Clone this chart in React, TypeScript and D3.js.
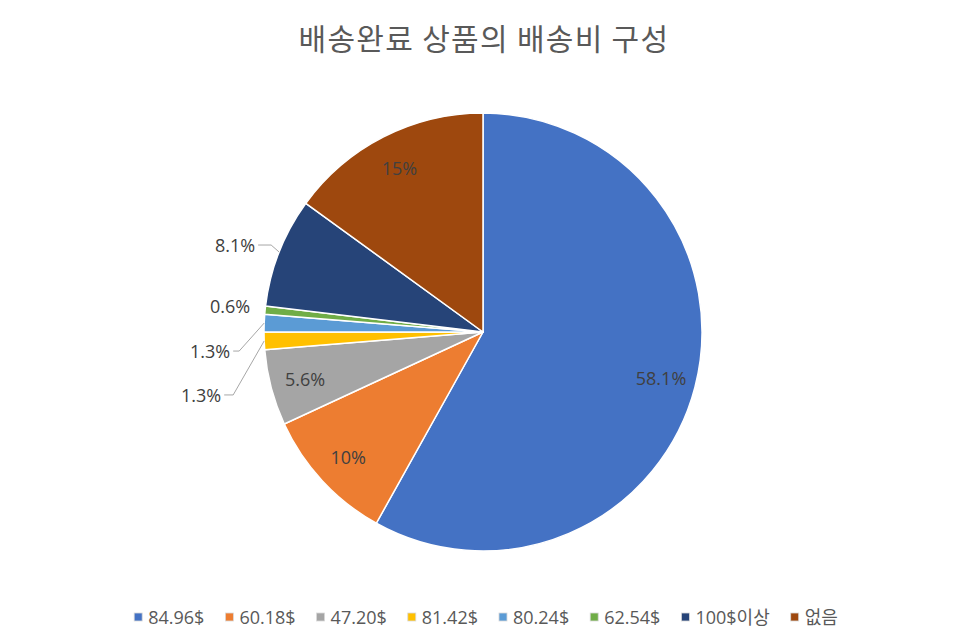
import { useEffect, useRef } from 'react';
import * as d3 from 'd3';

const title = '배송완료 상품의 배송비 구성';
const categories = ['84.96$', '60.18$', '47.20$', '81.42$', '80.24$', '62.54$', '100$이상', '없음'];
const shares = [58.1, 10, 5.6, 1.3, 1.3, 0.6, 8.1, 15];
const shareLabels = ['58.1%', '10%', '5.6%', '1.3%', '1.3%', '0.6%', '8.1%', '15%'];
const colors = ['#4472C4', '#ED7D31', '#A5A5A5', '#FFC000', '#5B9BD5', '#70AD47', '#264478', '#9E480E'];

// small slices get their label outside, pulled left with a leader line
const outside: Record<number, { dx: number; dy: number; tail: number; line: boolean }> = {
    3: { dx: -31, dy: 54, tail: 9, line: true },
    4: { dx: -25, dy: 28, tail: 6, line: true },
    5: { dx: -12, dy: -4, tail: 0, line: false },
    6: { dx: -8, dy: -7, tail: 13, line: true },
};

const W = 966;
const H = 644;
const TITLE_FONT = '"Noto Sans CJK KR", "Noto Sans", sans-serif';
const FONT = '"Open Sans", "Noto Sans CJK KR", sans-serif';

export default function App() {
    const svgRef = useRef<SVGSVGElement>(null);

    useEffect(() => {
        if (!svgRef.current) return;
        const svg = d3.select(svgRef.current);
        svg.selectAll('*').remove();

        const cx = 483;
        const cy = 332;
        const r = 219;

        svg.append('rect').attr('width', W).attr('height', H).attr('fill', '#fff');

        // Title
        svg.append('text')
            .attr('x', cx + 1)
            .attr('y', 37)
            .attr('text-anchor', 'middle')
            .attr('dominant-baseline', 'central')
            .style('font-family', TITLE_FONT)
            .style('font-size', '30px')
            .style('letter-spacing', '1.3px')
            .style('fill', '#595959')
            .text(title);

        const pie = d3.pie<number>().sort(null).value(d => d);
        const arcs = pie(shares);
        const arc = d3.arc<d3.PieArcDatum<number>>().innerRadius(0).outerRadius(r);

        const g = svg.append('g').attr('transform', `translate(${cx},${cy})`);

        g.selectAll('path.slice')
            .data(arcs)
            .enter()
            .append('path')
            .attr('class', 'slice')
            .attr('d', arc)
            .attr('fill', (d, i) => colors[i])
            .attr('stroke', '#fff')
            .attr('stroke-width', 1.5)
            .attr('stroke-linejoin', 'round');

        // Labels
        arcs.forEach((d, i) => {
            const mid = (d.startAngle + d.endAngle) / 2;
            const o = outside[i];
            if (!o) {
                const lr = r * 0.84;
                g.append('text')
                    .attr('x', Math.sin(mid) * lr)
                    .attr('y', -Math.cos(mid) * lr)
                    .attr('text-anchor', 'middle')
                    .attr('dominant-baseline', 'central')
                    .style('font-family', FONT)
                    .style('font-size', '18px')
                    .style('fill', '#404040')
                    .text(shareLabels[i]);
                return;
            }
            const ex = Math.sin(mid) * r;
            const ey = -Math.cos(mid) * r;
            const bx = ex + o.dx;
            const by = ey + o.dy;
            if (o.line) {
                g.append('polyline')
                    .attr('points', `${ex},${ey} ${bx},${by} ${bx - o.tail},${by}`)
                    .attr('fill', 'none')
                    .attr('stroke', '#A6A6A6')
                    .attr('stroke-width', 1);
            }
            g.append('text')
                .attr('x', bx - o.tail - 3)
                .attr('y', by)
                .attr('text-anchor', 'end')
                .attr('dominant-baseline', 'central')
                .style('font-family', FONT)
                .style('font-size', '18px')
                .style('fill', '#404040')
                .text(shareLabels[i]);
        });

        // Legend
        const legend = svg.append('g');
        const items = legend.selectAll('g.item')
            .data(categories)
            .enter()
            .append('g')
            .attr('class', 'item');

        items.append('rect')
            .attr('width', 8)
            .attr('height', 8)
            .attr('y', -4)
            .attr('fill', (d, i) => colors[i])
            .attr('stroke', '#d9d9d9')
            .attr('stroke-width', 0.8);

        const texts = items.append('text')
            .attr('x', 14)
            .attr('dominant-baseline', 'central')
            .style('font-family', FONT)
            .style('font-size', '18px')
            .style('fill', '#595959')
            .text(d => d);

        const widths: number[] = [];
        texts.each(function () {
            widths.push((this as SVGTextElement).getComputedTextLength());
        });
        const gap = 21;
        const itemW = widths.map(w => 14 + w);
        const total = d3.sum(itemW) + gap * (itemW.length - 1);
        let x = 486 - total / 2;
        const xs: number[] = [];
        itemW.forEach(w => {
            xs.push(x);
            x += w + gap;
        });
        items.attr('transform', (d, i) => `translate(${xs[i]},617)`);
    }, []);

    return (
        <div style={{ position: 'absolute', left: 0, top: 0, width: W, height: H }}>
            <svg ref={svgRef} width={W} height={H} />
        </div>
    );
}
